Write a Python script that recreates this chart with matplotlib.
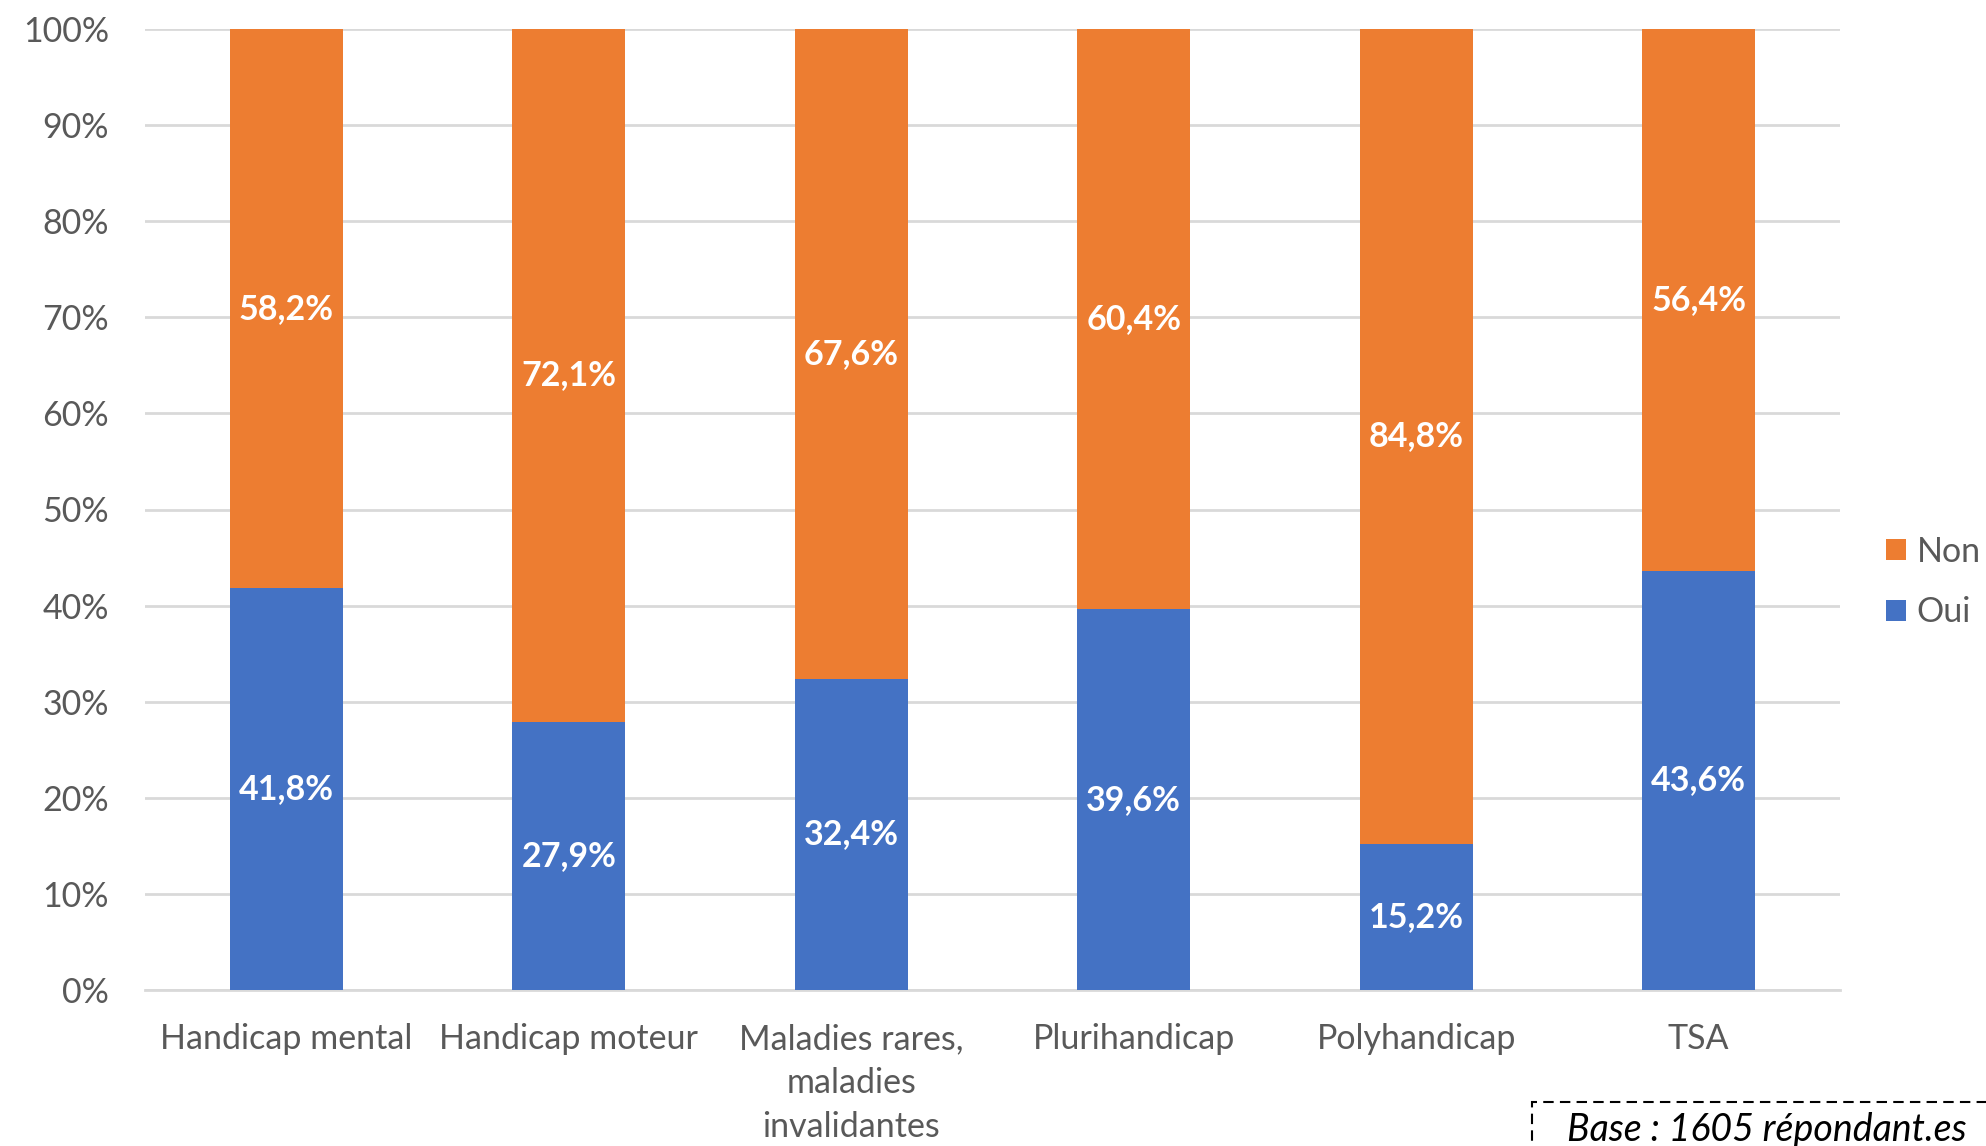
import matplotlib
matplotlib.use("Agg")
import matplotlib.pyplot as plt
from matplotlib.patches import Rectangle
import numpy as np

categories = ["Handicap mental", "Handicap moteur", "Maladies rares,\nmaladies\ninvalidantes",
              "Plurihandicap", "Polyhandicap", "TSA"]
oui = [41.8, 27.9, 32.4, 39.6, 15.2, 43.6]
non = [58.2, 72.1, 67.6, 60.4, 84.8, 56.4]
yticks = [0, 10, 20, 30, 40, 50, 60, 70, 80, 90, 100]

BLUE = "#4472C4"
ORANGE = "#ED7D31"
GRAY = "#595959"
FONT = "Lato"
FS = 24.5

fig = plt.figure(figsize=(19.86, 11.46), dpi=100)
ax = fig.add_axes([145/1986, 1-990/1146, (1840-145)/1986, (990-29)/1146])

x = np.arange(len(categories))
oui_a = np.array(oui) / 100
non_a = np.array(non) / 100
b1 = ax.bar(x, oui_a, width=0.4, color=BLUE, zorder=3, label="Oui")
b2 = ax.bar(x, non_a, width=0.4, bottom=oui_a, color=ORANGE, zorder=3, label="Non")

def fmt(v):
    return f"{v:.1f}%".replace(".", ",")

for i in range(len(categories)):
    ax.text(x[i], oui_a[i]/2, fmt(oui[i]), ha="center", va="center", color="white",
            fontsize=FS, fontweight="bold", family=FONT, zorder=4)
    ax.text(x[i], oui_a[i] + non_a[i]/2, fmt(non[i]), ha="center", va="center", color="white",
            fontsize=FS, fontweight="bold", family=FONT, zorder=4)

ax.set_xlim(-0.5, len(categories) - 0.5)
ax.set_ylim(0, 1)
ax.set_yticks([t/100 for t in yticks])
ax.set_yticklabels([f"{t}%" for t in yticks])
ax.yaxis.grid(True, color="#D9D9D9", linewidth=2, zorder=0)
ax.set_axisbelow(True)
for s in ["top", "right", "left"]:
    ax.spines[s].set_visible(False)
ax.spines["bottom"].set_color("#D9D9D9")
ax.spines["bottom"].set_linewidth(2)
ax.tick_params(axis="both", length=0, colors=GRAY)
ax.tick_params(axis="y", pad=26)
ax.tick_params(axis="x", pad=24)
ax.set_xticks(x)
ax.set_xticklabels(categories, linespacing=1.45)
for lab in ax.get_yticklabels() + ax.get_xticklabels():
    lab.set_fontsize(FS)
    lab.set_family(FONT)
    lab.set_color(GRAY)

# legend
fig.legend(handles=[b2, b1], labels=["Non", "Oui"], loc="center left",
           bbox_to_anchor=(1886/1986, 1-582/1146), frameon=False, borderpad=0, borderaxespad=0,
           prop={"family": FONT, "size": FS}, handlelength=0.6, handleheight=0.6,
           handletextpad=0.3, labelspacing=0.85, labelcolor=GRAY)

# base box
fig.patches.append(Rectangle((1532/1986, -0.05), 0.3, 1.05 - 1102/1146, transform=fig.transFigure,
                             fill=False, edgecolor="black", linestyle=(0, (5, 3)), linewidth=1.5))
fig.text(1767/1986, 1-1130/1146, "Base : 1605 répondant.es", ha="center", va="center",
         fontsize=27, style="italic", family=FONT, color="black")

fig.savefig("out.png", dpi=100)
